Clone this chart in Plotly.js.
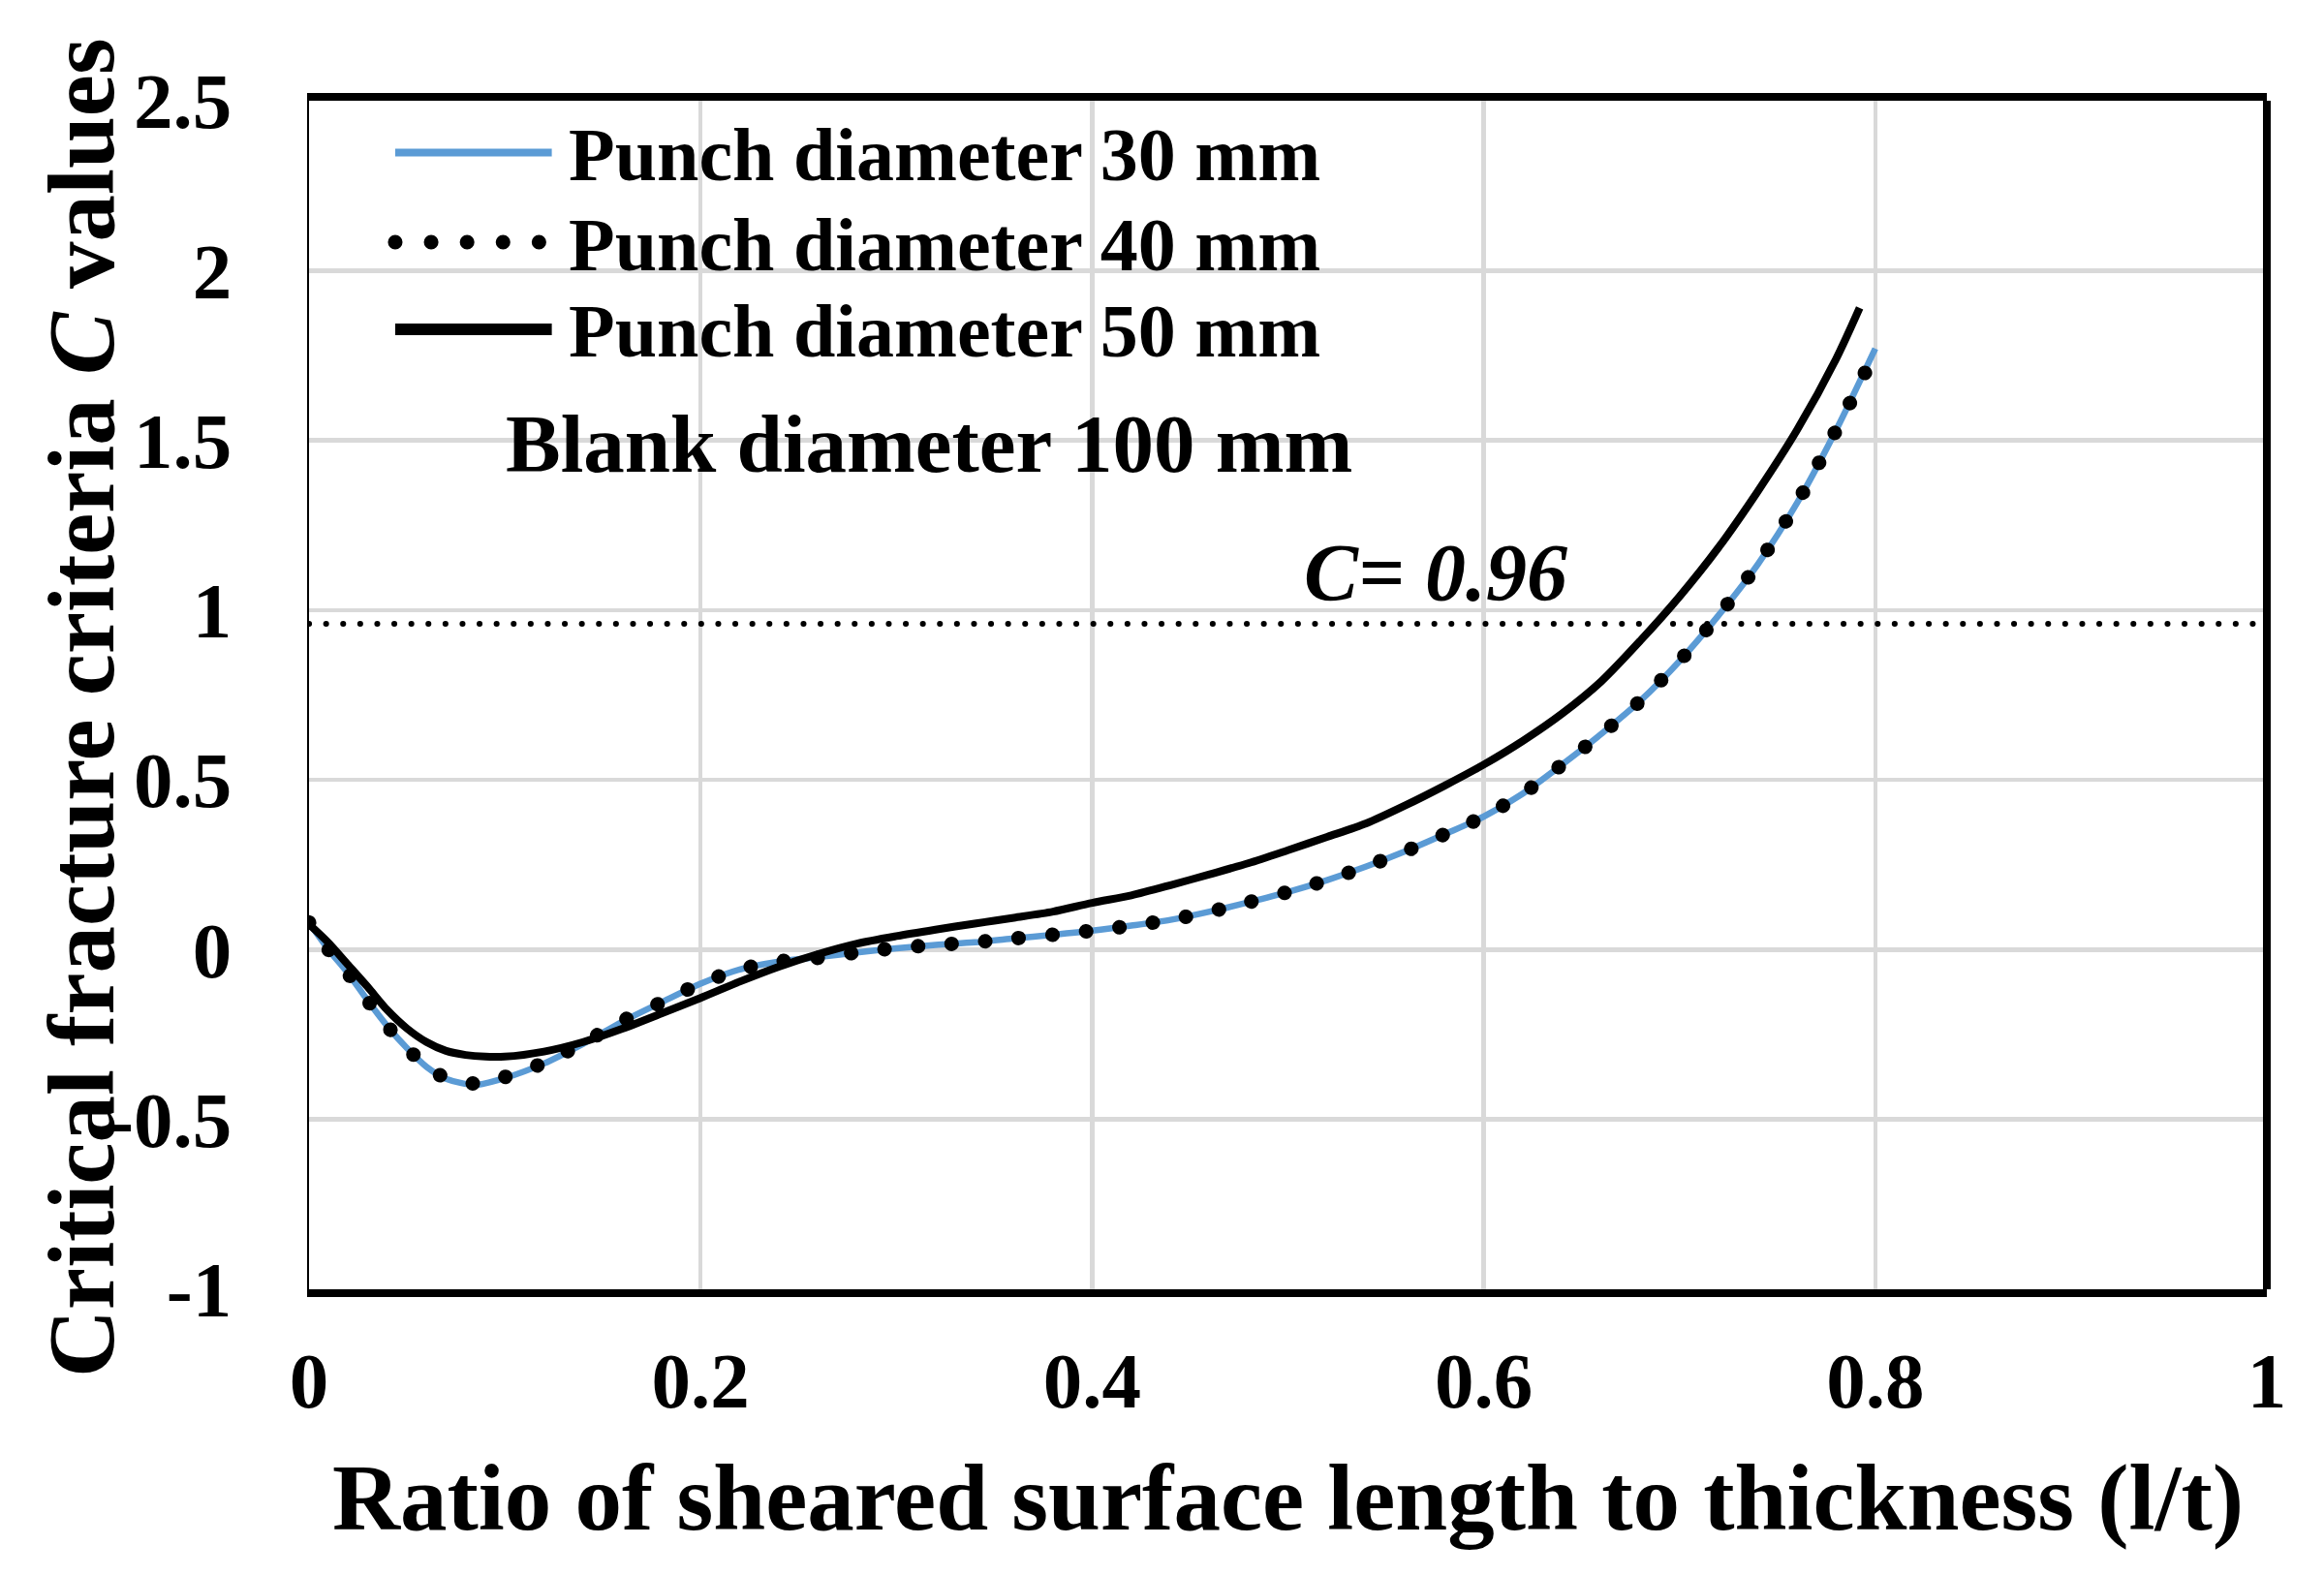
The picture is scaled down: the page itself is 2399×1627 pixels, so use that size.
<!DOCTYPE html>
<html>
<head>
<meta charset="utf-8">
<script src="https://cdn.plot.ly/plotly-3.0.1.min.js"></script>
<style>
  html, body { margin: 0; padding: 0; background: #fff; }
  #chart { width: 2399px; height: 1627px; }
</style>
</head>
<body>
<div id="chart"></div>
<script>
// sheared length ratio l/t and C values
var ratio30 = [0, 0.01, 0.02, 0.03, 0.04, 0.05, 0.06, 0.07, 0.085, 0.1, 0.12, 0.14, 0.16, 0.18, 0.2,
  0.22, 0.24, 0.26, 0.28, 0.3, 0.32, 0.34, 0.36, 0.38, 0.4, 0.42, 0.44, 0.46, 0.48, 0.5,
  0.52, 0.54, 0.56, 0.58, 0.6, 0.62, 0.64, 0.66, 0.68, 0.7, 0.72, 0.74, 0.76, 0.78, 0.8];
var punch30 = [0.08, 0.0, -0.07, -0.15, -0.225, -0.29, -0.345, -0.38, -0.398, -0.378, -0.335, -0.277, -0.212, -0.155, -0.10,
  -0.058, -0.035, -0.022, -0.008, 0.004, 0.014, 0.022, 0.033, 0.044, 0.056, 0.071, 0.088, 0.112, 0.14, 0.17,
  0.205, 0.245, 0.29, 0.34, 0.392, 0.46, 0.545, 0.635, 0.733, 0.85, 0.985, 1.135, 1.315, 1.53, 1.77];

var ratio40 = ratio30;
var punch40 = [0.08, 0.0, -0.07, -0.15, -0.225, -0.29, -0.343, -0.378, -0.394, -0.375, -0.333, -0.275, -0.21, -0.155, -0.10,
  -0.058, -0.035, -0.024, -0.008, 0.005, 0.014, 0.022, 0.033, 0.044, 0.056, 0.071, 0.088, 0.112, 0.14, 0.17,
  0.205, 0.245, 0.29, 0.34, 0.392, 0.46, 0.545, 0.635, 0.733, 0.85, 0.985, 1.135, 1.315, 1.53, 1.76];

var ratio50 = [0, 0.01, 0.02, 0.03, 0.04, 0.05, 0.06, 0.07, 0.08, 0.09, 0.1, 0.12, 0.14, 0.16, 0.18, 0.2,
  0.22, 0.24, 0.26, 0.28, 0.3, 0.32, 0.34, 0.36, 0.38, 0.4, 0.42, 0.44, 0.46, 0.48, 0.5,
  0.52, 0.54, 0.56, 0.58, 0.6, 0.62, 0.64, 0.66, 0.68, 0.7, 0.72, 0.74, 0.76, 0.78, 0.792];
var punch50 = [0.075, 0.02, -0.045, -0.11, -0.178, -0.232, -0.272, -0.298, -0.31, -0.315, -0.315, -0.30, -0.272, -0.233, -0.188, -0.142,
  -0.094, -0.05, -0.013, 0.018, 0.04, 0.059, 0.077, 0.094, 0.112, 0.138, 0.16, 0.19, 0.222, 0.255, 0.293,
  0.332, 0.372, 0.425, 0.483, 0.545, 0.615, 0.695, 0.79, 0.91, 1.04, 1.185, 1.35, 1.53, 1.74, 1.89];

var seriesNames = ["Punch diameter 30 mm", "Punch diameter 40 mm", "Punch diameter 50 mm"];
var cCritical = 0.96;

var xTickVals = [0, 0.2, 0.4, 0.6, 0.8, 1];
var xTickText = ["0", "0.2", "0.4", "0.6", "0.8", "1"];
var yTickVals = [-1, -0.5, 0, 0.5, 1, 1.5, 2, 2.5];
var yTickText = ["-1", "-0.5", "0", "0.5", "1", "1.5", "2", "2.5"];

var serif = "Liberation Serif, Times New Roman, serif";
var blue = "#5B9BD5";

var traces = [
  {x: ratio30, y: punch30, name: seriesNames[0], type: "scatter", mode: "lines",
   line: {color: blue, width: 6.5, shape: "spline", smoothing: 0.8}},
  {x: ratio40, y: punch40, name: seriesNames[1], type: "scatter", mode: "lines",
   line: {color: "#000", width: 15, dash: "0.1px,34.7px", shape: "spline", smoothing: 0.8}},
  {x: ratio50, y: punch50, name: seriesNames[2], type: "scatter", mode: "lines",
   line: {color: "#000", width: 8, shape: "spline", smoothing: 0.8}}
];

// legend rows (paper coords), drawn by hand so the sample lines can be long
var legendY = [0.9564, 0.881, 0.8077];
var legendX0 = 0.044, legendX1 = 0.124, legendTextX = 0.1316;

var shapes = [
  // right frame edge
  {type: "line", xref: "paper", yref: "paper", x0: 1, x1: 1, y0: 0, y1: 1,
   line: {color: "#000", width: 8}},
  // C = 0.96 critical line
  {type: "line", xref: "x", yref: "y", x0: 0, x1: 1, y0: cCritical, y1: cCritical,
   line: {color: "#000", width: 6, dash: "0.1px,17.5px"}},
  {type: "line", xref: "paper", yref: "paper", x0: legendX0, x1: legendX1, y0: legendY[0], y1: legendY[0],
   line: {color: blue, width: 8}},
  {type: "line", xref: "paper", yref: "paper", x0: legendX0, x1: legendX1, y0: legendY[1], y1: legendY[1],
   line: {color: "#000", width: 15, dash: "0.1px,37px"}},
  {type: "line", xref: "paper", yref: "paper", x0: legendX0, x1: legendX1, y0: legendY[2], y1: legendY[2],
   line: {color: "#000", width: 12}}
];

var annotations = [];
for (var i = 0; i < seriesNames.length; i++) {
  annotations.push({xref: "paper", yref: "paper", x: legendTextX, y: legendY[i], yshift: -2,
    xanchor: "left", yanchor: "middle", showarrow: false, text: seriesNames[i],
    font: {family: serif, size: 78, color: "#000", weight: "bold"}});
}
annotations.push({xref: "x", yref: "y", x: 0.0995, y: 1.49, xanchor: "left", yanchor: "middle",
  showarrow: false, text: "Blank diameter 100 mm",
  font: {family: serif, size: 85, color: "#000", weight: "bold"}});
annotations.push({xref: "x", yref: "y", x: 0.507, y: 1.11, xanchor: "left", yanchor: "middle",
  showarrow: false, text: "<i>C= " + cCritical + "</i>",
  font: {family: serif, size: 84, color: "#000", weight: "bold"}});
// y axis title, placed by hand so it can sit over the tick labels like the original
annotations.push({xref: "paper", yref: "paper", x: -0.1163, y: 0.4898, xanchor: "center", yanchor: "middle",
  textangle: -90, showarrow: false, text: "Critical fracture criteria <i>C</i> values",
  font: {family: serif, size: 97, color: "#000", weight: "bold"}});

var layout = {
  width: 2399, height: 1627,
  margin: {l: 319, r: 59, t: 104, b: 296},
  paper_bgcolor: "#fff", plot_bgcolor: "#fff",
  showlegend: false,
  font: {family: serif, color: "#000", weight: "bold"},
  xaxis: {
    range: [0, 1], tickvals: xTickVals, ticktext: xTickText,
    showgrid: true, gridcolor: "#d9d9d9", gridwidth: 4.5, zeroline: false,
    showline: true, linecolor: "#000", linewidth: 8, mirror: true,
    ticks: "", ticklabelstandoff: 17,
    tickfont: {family: serif, size: 81, color: "#000", weight: "bold"},
    title: {text: "Ratio of sheared surface length to thickness (l/t)", standoff: 44,
      font: {family: serif, size: 97, color: "#000", weight: "bold"}}
  },
  yaxis: {
    range: [-1, 2.5], tickvals: yTickVals, ticktext: yTickText,
    showgrid: true, gridcolor: "#d9d9d9", gridwidth: 4.5, zeroline: false,
    showline: true, linecolor: "#000", linewidth: 2.5,
    ticks: "", ticklabelstandoff: 61,
    tickfont: {family: serif, size: 81, color: "#000", weight: "bold"}
  },
  shapes: shapes,
  annotations: annotations
};

Plotly.newPlot("chart", traces, layout, {staticPlot: true}).then(function (gd) {
  // round caps turn the tiny dashes into round dots, like the original dotted style
  var paths = gd.querySelectorAll("path");
  for (var k = 0; k < paths.length; k++) {
    var da = paths[k].style.strokeDasharray;
    if (da && da !== "none") paths[k].style.strokeLinecap = "round";
  }
});
</script>
</body>
</html>
